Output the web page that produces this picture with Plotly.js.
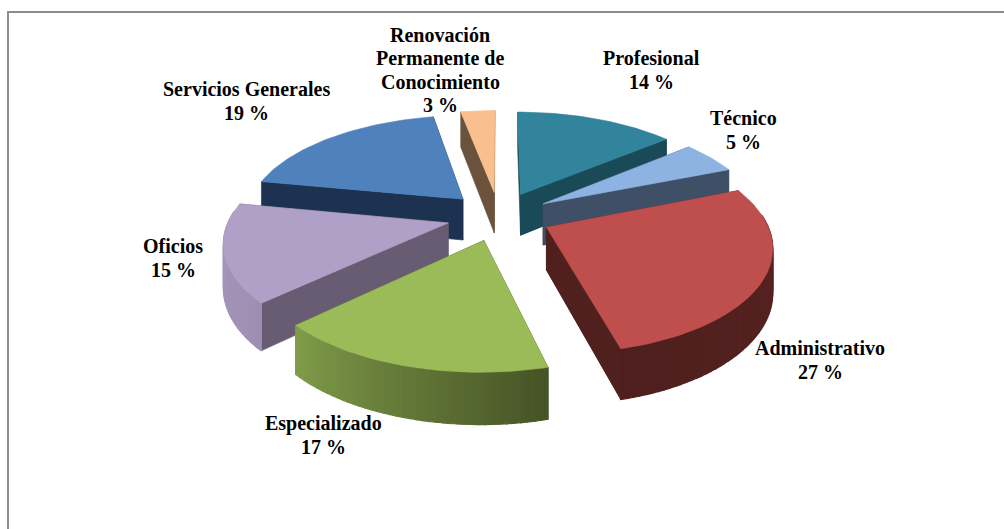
<!DOCTYPE html>
<html><head><meta charset="utf-8">
<script src="https://cdn.plot.ly/plotly-3.0.1.min.js"></script>
<style>html,body{margin:0;padding:0;background:#fff}#c{width:1004px;height:529px}</style>
</head><body><div id="c"></div>
<script>
// --- data ---
const categories = ['Profesional','Técnico','Administrativo','Especializado','Oficios','Servicios Generales','Renovación Permanente de Conocimiento'];
const values = [14,5,27,17,15,19,3];
const labelLines = [['Profesional'],['Técnico'],['Administrativo'],['Especializado'],['Oficios'],['Servicios Generales'],['Renovación','Permanente de','Conocimiento']];
// --- styles ---
const topColors  = ['#31849B','#8DB3E2','#BE4F4C','#9BBB59','#B09FC6','#4F81BD','#F9BF8E'];
const wallColors = ['#1A4A58','#3F4F66','#50201F','#4C5A2A','#675C72','#1D3250','#6B523C'];
const rimStart   = ['#2A7287','#6E8FB8','#5A2421','#475426','#9F8FB3','#3E6797','#C99A70'];
const rimEnd     = ['#1A4A58','#3F4F66','#4E1F1E','#7F9C49','#A898BD','#1D3250','#6B523C'];
const labelAnchors = [[651,70],[743,130],[820,360],[323,435],[173,258],[246,101],[440,70]];
// --- projection ---
const CX=499, CY=216, RX=218, RY=102, K=0.16, DEPTH=42, EXPLODE=0.24, LINE_GAP=23.6;
function project(u,v,z){const s=1/(1+K*v);return [CX+RX*u*s, CY-RY*v*s+DEPTH*z*s];}
function hex(c){return [1,3,5].map(i=>parseInt(c.substr(i,2),16));}
function mix(a,b,t){const A=hex(a),B=hex(b);return 'rgb('+A.map((x,i)=>Math.round(x+(B[i]-x)*t)).join(',')+')';}
const total=values.reduce((a,b)=>a+b,0);
const slices=[];let acc=0;
values.forEach((val,i)=>{
  const a0=acc/total*2*Math.PI, a1=(acc+val)/total*2*Math.PI; acc+=val;
  const m=(a0+a1)/2, ox=EXPLODE*Math.sin(m), oy=EXPLODE*Math.cos(m);
  const n=Math.max(8,Math.round(val*2.4));
  const arc=[];const angles=[];
  for(let j=0;j<=n;j++){const a=a0+(a1-a0)*j/n;angles.push(a);arc.push([ox+Math.sin(a),oy+Math.cos(a)]);}
  slices.push({i,ox,oy,arc,angles});
});
function poly(pts,color,w){
  return {type:'scatter',mode:'lines',x:pts.map(p=>p[0]).concat(pts[0][0]),y:pts.map(p=>p[1]).concat(pts[0][1]),
    fill:'toself',fillcolor:color,line:{color:color,width:w===undefined?0.6:w},hoverinfo:'skip',showlegend:false};
}
const traces=[];
// paint from back to front
[6,5,0,1,4,2,3].forEach(idx=>{
  const s=slices[idx], i=s.i;
  const A0=s.arc[0], A1=s.arc[s.arc.length-1];
  // radial walls
  [A0,A1].forEach(A=>{
    traces.push(poly([project(s.ox,s.oy,0),project(A[0],A[1],0),project(A[0],A[1],1),project(s.ox,s.oy,1)],wallColors[i]));
  });
  // rim: only the part that faces the viewer
  for(let j=0;j<s.arc.length-1;j++){
    if(Math.cos((s.angles[j]+s.angles[j+1])/2)>0.12) continue;
    const p=s.arc[j],q=s.arc[j+1];
    traces.push(poly([project(p[0],p[1],0),project(q[0],q[1],0),project(q[0],q[1],1),project(p[0],p[1],1)],mix(rimStart[i],rimEnd[i],j/(s.arc.length-2)),1.2));
  }
  // front-facing wall goes over the rim's end
  if(Math.cos(s.angles[s.angles.length-1]+Math.PI/2)<0){
    traces.push(poly([project(s.ox,s.oy,0),project(A1[0],A1[1],0),project(A1[0],A1[1],1),project(s.ox,s.oy,1)],wallColors[i]));
  }
  // top
  traces.push(Object.assign(poly([project(s.ox,s.oy,0)].concat(s.arc.map(p=>project(p[0],p[1],0))),topColors[i]),{name:categories[i]}));
});
const annotations=[];
categories.forEach((c,i)=>{
  const lines=labelLines[i].concat(values[i]+' %');
  lines.forEach((t,k)=>annotations.push({
    x:labelAnchors[i][0],y:labelAnchors[i][1]+(k-(lines.length-1)/2)*LINE_GAP,xref:'x',yref:'y',showarrow:false,align:'center',xanchor:'center',yanchor:'middle',
    text:'<b>'+t+'</b>',font:{family:'"Liberation Serif",serif',size:20,color:'#000'}
  }));
});
Plotly.newPlot('c',traces,{
  width:1004,height:529,margin:{l:0,r:0,t:0,b:0},paper_bgcolor:'#fff',plot_bgcolor:'#fff',showlegend:false,
  xaxis:{range:[0,1004],visible:false,fixedrange:true},
  yaxis:{range:[529,0],visible:false,fixedrange:true},
  annotations:annotations,
  shapes:[{type:'rect',xref:'x',yref:'y',x0:8,y0:12,x1:1012,y1:540,line:{color:'#8C8C8C',width:2},layer:'below'}]
},{displayModeBar:false,staticPlot:true});
</script></body></html>
